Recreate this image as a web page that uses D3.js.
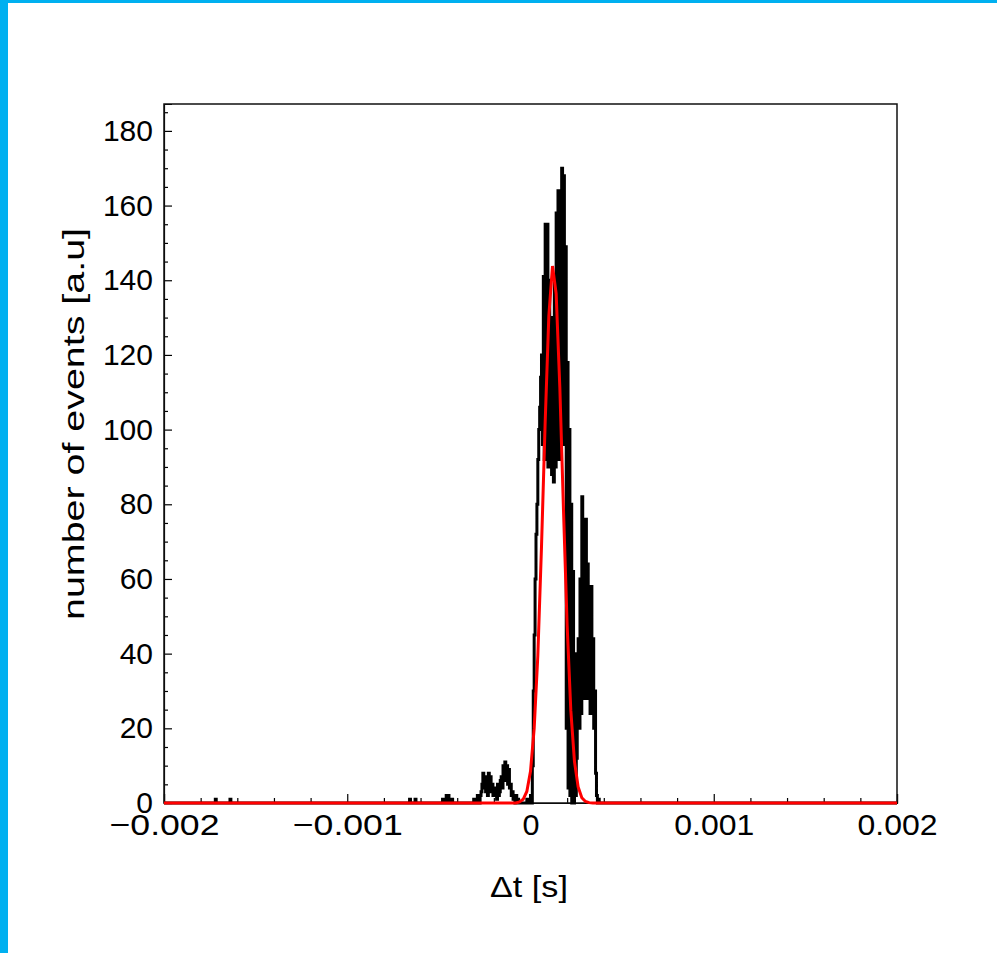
<!DOCTYPE html>
<html>
<head>
<meta charset="utf-8">
<script src="https://cdn.jsdelivr.net/npm/d3@7"></script>
<style>
  body { margin: 0; background: #fff; }
  svg { display: block; }
  text { font-family: "Liberation Sans", Arial, sans-serif; fill: #000; }
</style>
</head>
<body>
<svg id="chart" width="997" height="953"></svg>
<script>
// ---------------------------
// DATA
// ---------------------------

// histogram binning (bin k covers [k*w, (k+1)*w], k = -400 .. 399)
const xRange = [-0.002, 0.002];
const binWidth = 0.000005;

// consecutive bin contents, starting at bin -62
const peakFirstBin = -62;
const peakCounts = [
    1, 0, 0, 0, 2, 1, 0, 2, 3, 5,
    8, 4, 7, 3, 6, 2, 8, 4, 7, 3,
    5, 2, 4, 2, 3, 1, 5, 2, 3, 6,
    7, 4, 10, 6, 11, 7, 10, 5, 9, 4,
    5, 2, 3, 1, 2, 0, 2, 1, 1, 0,
    0, 0, 0, 0, 0, 0, 0, 0, 1, 0,
    0, 0,
    // main peak, from 0
    2, 0, 10, 30, 45, 60, 72, 80, 92, 100,
    106, 114, 120, 96, 141, 92, 155, 96, 155, 90,
    140, 95, 128, 88, 130, 86, 140, 90, 158, 96,
    164, 92, 164, 110, 170, 96, 168, 100, 149, 20,
    118, 4, 100, 2, 80, 0, 62, 0, 40, 2,
    // second peak
    12, 28, 44, 20, 60, 24, 82, 30, 70, 28,
    76, 30, 64, 28, 50, 24, 58, 30, 44, 20,
    30, 8, 2, 0, 1, 0
];

// lonely single counts far from the peak
const strayBins = [-344, -328, -132, -126, -96, -92, -90, -86];
const strayCounts = [1, 1, 1, 1, 1, 2, 2, 1];

// gaussian fit, points
const fitX = [-0.002, -0.00008, -0.00006, -0.00004, -0.00002, 0, 0.00002, 0.00004, 0.00006,
    0.00008, 0.0001, 0.00012, 0.00014, 0.00016, 0.00018, 0.0002, 0.00022, 0.00024,
    0.00026, 0.00028, 0.0003, 0.00032, 0.00034, 0.002];
const fitY = [0, 0, 0.3, 1.0, 3.1, 8.5, 19.9, 39.5, 68.6,
    101.9, 130.4, 143.8, 136.4, 111.4, 78.5, 47.5, 24.8, 11.1,
    4.3, 1.4, 0.4, 0.1, 0, 0];

// axes
const yMax = 187.2;
const yTicks = [0, 20, 40, 60, 80, 100, 120, 140, 160, 180];
const yMinorTicks = d3.range(0, 186, 5);
const xTicks = [-0.002, -0.001, 0, 0.001, 0.002];
const xTickLabels = ["\u22120.002", "\u22120.001", "0", "0.001", "0.002"];
const xMinorTicks = d3.range(-10, 11).map(i => i * 0.0002);

const xTitle = "\u0394t [s]";
const yTitle = "number of events [a.u]";

// ---------------------------
// LAYOUT
// ---------------------------

const margin = {left: 164, top: 104, right: 897, bottom: 803};
const fontSize = 30;
const frameBlue = "#00b0f0";

const svg = d3.select("#chart");

// blue window border (top + left)
svg.append("rect").attr("x", 0).attr("y", 0).attr("width", 997).attr("height", 3).attr("fill", frameBlue);
svg.append("rect").attr("x", 0).attr("y", 0).attr("width", 8).attr("height", 953).attr("fill", frameBlue);

const xScale = d3.scaleLinear().domain(xRange).range([margin.left, margin.right]);
const yScale = d3.scaleLinear().domain([0, yMax]).range([margin.bottom, margin.top]);

// ---------------------------
// BUILD HISTOGRAM
// ---------------------------

const nBins = Math.round((xRange[1] - xRange[0]) / binWidth);
const counts = new Array(nBins).fill(0);
const offset = nBins / 2;
peakCounts.forEach((c, i) => { counts[peakFirstBin + i + offset] = c; });
strayBins.forEach((b, i) => { counts[b + offset] = strayCounts[i]; });

const histPoints = counts.map((c, i) => ({x: xRange[0] + i * binWidth, y: c}));
histPoints.push({x: xRange[1], y: counts[nBins - 1]});

// ---------------------------
// AXES
// ---------------------------

const axisG = svg.append("g");

axisG.append("g")
    .attr("transform", `translate(${margin.left},0)`)
    .call(d3.axisLeft(yScale).tickValues(yTicks).tickSize(-8).tickPadding(11).tickFormat(d3.format("d")));

axisG.append("g")
    .attr("transform", `translate(${margin.left},0)`)
    .call(d3.axisLeft(yScale).tickValues(yMinorTicks.filter(v => v % 20 !== 0)).tickSize(-4).tickFormat(""))
    .call(g => g.select(".domain").remove());

const xAxis = axisG.append("g")
    .attr("transform", `translate(0,${margin.bottom})`)
    .call(d3.axisBottom(xScale).tickValues(xTicks).tickSize(-9).tickPadding(11)
        .tickFormat((d, i) => xTickLabels[i]));

axisG.append("g")
    .attr("transform", `translate(0,${margin.bottom})`)
    .call(d3.axisBottom(xScale).tickValues(xMinorTicks.filter((v, i) => i % 5 !== 0)).tickSize(-5).tickFormat(""))
    .call(g => g.select(".domain").remove());

axisG.selectAll(".domain").attr("stroke", "#000").attr("stroke-width", 1.2);
axisG.selectAll(".tick line").attr("stroke", "#000").attr("stroke-width", 1.2);
axisG.selectAll(".tick text")
    .attr("font-size", fontSize)
    .attr("font-family", "Liberation Sans, Arial, sans-serif")
    .attr("fill", "#000");

// ROOT's labels come out a bit wider than Liberation Sans
xAxis.selectAll(".tick text")
    .attr("textLength", (d, i) => [110, 110, 17, 80, 80][i])
    .attr("lengthAdjust", "spacingAndGlyphs");

// frame box
svg.append("rect")
    .attr("x", margin.left)
    .attr("y", margin.top)
    .attr("width", margin.right - margin.left)
    .attr("height", margin.bottom - margin.top)
    .attr("fill", "none")
    .attr("stroke", "#111")
    .attr("stroke-width", 1.5);

// ---------------------------
// HISTOGRAM + FIT
// ---------------------------

const histLine = d3.line()
    .x(d => xScale(d.x))
    .y(d => yScale(d.y))
    .curve(d3.curveStepAfter);

svg.append("path")
    .datum(histPoints)
    .attr("d", histLine)
    .attr("fill", "none")
    .attr("stroke", "#000")
    .attr("stroke-width", 3)
    .attr("stroke-linejoin", "miter");

const fitLine = d3.line()
    .x(d => xScale(d[0]))
    .y(d => yScale(d[1]));

svg.append("path")
    .datum(d3.zip(fitX, fitY))
    .attr("d", fitLine)
    .attr("fill", "none")
    .attr("stroke", "#ff0000")
    .attr("stroke-width", 3);

// ---------------------------
// TITLES
// ---------------------------

svg.append("text")
    .attr("x", 529)
    .attr("y", 897)
    .attr("text-anchor", "middle")
    .attr("font-size", fontSize)
    .attr("textLength", 78)
    .attr("lengthAdjust", "spacingAndGlyphs")
    .text(xTitle);

svg.append("text")
    .attr("transform", "translate(84,424) rotate(-90)")
    .attr("text-anchor", "middle")
    .attr("font-size", fontSize)
    .attr("textLength", 392)
    .attr("lengthAdjust", "spacingAndGlyphs")
    .text(yTitle);
</script>
</body>
</html>
